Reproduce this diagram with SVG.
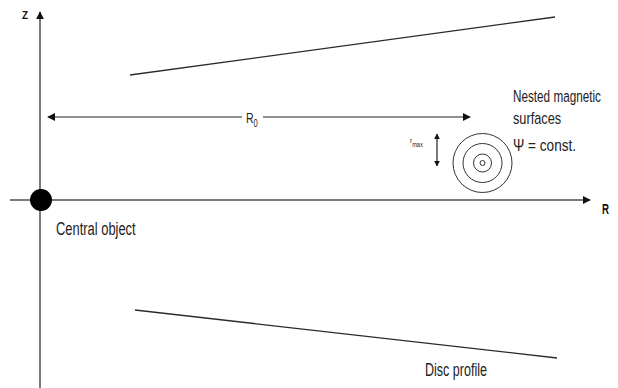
<svg xmlns="http://www.w3.org/2000/svg" width="618" height="388" viewBox="0 0 618 388">
<defs>
<style>
.axis{stroke:#7a7a7a;stroke-width:2;fill:none}
.disc{stroke:#2a2a2a;stroke-width:1.3;fill:none}
.thin{stroke:#222;stroke-width:1.2;fill:none}
.ring{stroke:#333;stroke-width:1;fill:none}
.lbl{font-family:"Liberation Sans",Arial,sans-serif;fill:#222}
.ax{font-family:"Liberation Sans",Arial,sans-serif;font-weight:bold;fill:#111}
</style>
<marker id="ah" viewBox="0 0 10 10" refX="9" refY="5" markerWidth="8" markerHeight="8" markerUnits="userSpaceOnUse" orient="auto-start-reverse">
<path d="M0,0 L10,5 L0,10 z" fill="#111"/>
</marker>
<marker id="ahs" viewBox="0 0 10 10" refX="9" refY="5" markerWidth="6" markerHeight="6" markerUnits="userSpaceOnUse" orient="auto-start-reverse">
<path d="M0,0 L10,5 L0,10 z" fill="#111"/>
</marker>
</defs>
<rect width="618" height="388" fill="#fff"/>
<g id="connectors">
<line class="axis" x1="40" y1="388" x2="40" y2="12" marker-end="url(#ah)"/>
<line class="axis" x1="10" y1="200" x2="590" y2="200" marker-end="url(#ah)"/>
<line class="disc" x1="130" y1="75" x2="555" y2="17"/>
<line class="disc" x1="135" y1="310" x2="557" y2="358"/>
<line class="thin" x1="242" y1="117" x2="48" y2="117" marker-end="url(#ah)"/>
<line class="thin" x1="263" y1="117" x2="470" y2="117" marker-end="url(#ah)"/>
<line class="thin" x1="437" y1="134" x2="437" y2="166" marker-start="url(#ahs)" marker-end="url(#ahs)"/>
</g>
<g id="z-label"><text class="ax" x="22" y="19" font-size="11" textLength="6" lengthAdjust="spacingAndGlyphs">Z</text></g>
<g id="r-label"><text class="ax" x="602" y="214" font-size="15" textLength="7" lengthAdjust="spacingAndGlyphs">R</text></g>
<g id="central-object">
<circle cx="41" cy="200" r="11" fill="#000"/>
<text class="lbl" transform="translate(56,235) scale(0.68,1)" font-size="19">Central object</text>
</g>
<g id="r0-label">
<text class="lbl" transform="translate(246,123) scale(0.75,1)" font-size="14">R<tspan font-size="10" dy="4">0</tspan></text>
</g>
<g id="rmax-label">
<text class="lbl" transform="translate(410,143) scale(0.8,1)" font-size="8">r<tspan font-size="7" dy="4">max</tspan></text>
</g>
<g id="magnetic-surfaces">
<circle class="ring" cx="482.5" cy="163" r="29.5"/>
<circle class="ring" cx="482.5" cy="163" r="19.5"/>
<circle class="ring" cx="482.5" cy="163" r="9"/>
<circle class="ring" cx="482.5" cy="163" r="2.5"/>
<text class="lbl" transform="translate(513,102) scale(0.69,1)" font-size="17">Nested magnetic</text>
<text class="lbl" transform="translate(513,124) scale(0.75,1)" font-size="17">surfaces</text>
<text class="lbl" transform="translate(513,151) scale(0.8,1)" font-size="17">Ψ = const.</text>
</g>
<g id="disc-profile">
<text class="lbl" transform="translate(425,376) scale(0.66,1)" font-size="19">Disc profile</text>
</g>
</svg>
